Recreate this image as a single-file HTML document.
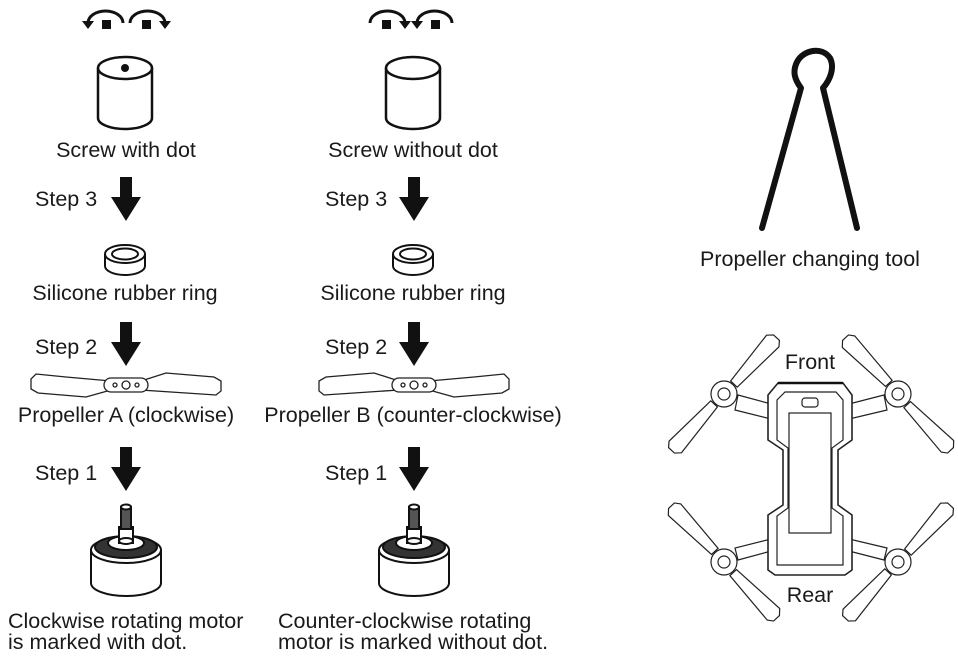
<!DOCTYPE html>
<html><head><meta charset="utf-8"><style>
html,body{margin:0;padding:0;background:#fff}
svg{display:block}
text{font-family:"Liberation Sans",Arial,sans-serif;font-size:21.5px;fill:#1a1a1a}
</style></head><body>
<svg width="958" height="660" viewBox="0 0 958 660" xmlns="http://www.w3.org/2000/svg">
<defs>
<g id="arrow"><rect x="-6" y="0" width="12" height="22" fill="#111"/><polygon points="-15,20 15,20 0,44" fill="#111"/></g>
<g id="ring" fill="#fff" stroke="#111" stroke-width="2"><path d="M-20,-6 L-20,6 A20,9 0 0 0 20,6 L20,-6"/><ellipse cx="0" cy="-6" rx="20" ry="9"/><ellipse cx="0" cy="-6" rx="13" ry="5.5"/></g>
<g id="prop" fill="#fff" stroke="#222" stroke-width="1.3">
<path d="M-15,-4 L-60,-8 L-90,-11 L-95,-6 L-95,4 L-88,8 L-40,12 L-15,5 Z"/>
<path d="M15,-4 L40,-12 L88,-8 L95,-4 L95,6 L90,10 L60,8 L15,5 Z"/>
<rect x="-22" y="-7" width="44" height="14" rx="7"/>
<circle cx="0" cy="0" r="4"/><circle cx="-11" cy="0" r="2"/><circle cx="11" cy="0" r="2"/>
</g>
<g id="motor" stroke="#111" stroke-width="2" fill="#fff">
<path d="M-35,45 L-35,78 A35,13 0 0 0 35,78 L35,45"/>
<ellipse cx="0" cy="45" rx="35" ry="13"/>
<ellipse cx="0" cy="42" rx="31" ry="11" fill="#333"/>
<ellipse cx="0" cy="38" rx="18" ry="7"/>
<rect x="-7" y="22" width="14" height="16"/>
<ellipse cx="0" cy="36" rx="7" ry="3"/>
<rect x="-5" y="2" width="10" height="22" fill="#555"/>
<ellipse cx="0" cy="2" rx="5" ry="2.5" fill="#fff"/>
</g>
<g id="cyl" fill="#fff" stroke="#111" stroke-width="2.5"><path d="M-27,0 L-27,50 A27,11 0 0 0 27,50 L27,0"/><ellipse cx="0" cy="0" rx="27" ry="11"/></g>
<g id="lockL"><path d="M-20,14 A17.5,12 0 0 1 15,14" fill="none" stroke="#111" stroke-width="3"/><polygon points="-26,12 -14,12 -20,20" fill="#111"/><rect x="-6" y="11" width="9" height="9" fill="#111"/></g>
<path id="blade" d="M14,-4 L72,-9 L77,-4 L77,4 L72,8 L14,5 Z" fill="#fff" stroke="#222" stroke-width="1.2"/>
</defs>

<g transform="translate(108,9)"><use href="#lockL"/></g>
<g transform="translate(145,9) scale(-1,1)"><use href="#lockL"/></g>
<g transform="translate(385,9) scale(-1,1)"><use href="#lockL"/></g>
<g transform="translate(437,9)"><use href="#lockL"/></g>

<g transform="translate(125,68)"><use href="#cyl"/><circle cx="0" cy="0" r="4" fill="#111"/></g>
<g transform="translate(413,68)"><use href="#cyl"/></g>

<text x="126" y="157" text-anchor="middle">Screw with dot</text>
<text x="413" y="157" text-anchor="middle">Screw without dot</text>

<text x="35" y="206">Step 3</text><use href="#arrow" transform="translate(126,177)"/>
<text x="325" y="206">Step 3</text><use href="#arrow" transform="translate(414,177)"/>

<use href="#ring" transform="translate(125,260)"/>
<use href="#ring" transform="translate(413,260)"/>
<text x="125" y="300" text-anchor="middle">Silicone rubber ring</text>
<text x="413" y="300" text-anchor="middle">Silicone rubber ring</text>

<text x="35" y="354">Step 2</text><use href="#arrow" transform="translate(126,322)"/>
<text x="325" y="354">Step 2</text><use href="#arrow" transform="translate(414,322)"/>

<use href="#prop" transform="translate(126,385)"/>
<use href="#prop" transform="translate(414,385) scale(-1,1)"/>
<text x="126" y="422" text-anchor="middle">Propeller A (clockwise)</text>
<text x="413" y="422" text-anchor="middle">Propeller B (counter-clockwise)</text>

<text x="35" y="480">Step 1</text><use href="#arrow" transform="translate(126,447)"/>
<text x="325" y="480">Step 1</text><use href="#arrow" transform="translate(414,447)"/>

<use href="#motor" transform="translate(126,505)"/>
<use href="#motor" transform="translate(414,505)"/>

<text x="8" y="628">Clockwise rotating motor</text>
<text x="8" y="649">is marked with dot.</text>
<text x="278" y="628">Counter-clockwise rotating</text>
<text x="278" y="649">motor is marked without dot.</text>

<path d="M762,228 L801,88 C795,80 792,72 797,62 C803,50 822,46 830,58 C835,68 830,80 823,88 L857,228" fill="none" stroke="#111" stroke-width="6" stroke-linecap="round" stroke-linejoin="round"/>
<text x="810" y="266" text-anchor="middle">Propeller changing tool</text>

<g stroke="#222" stroke-width="1.2" fill="#fff">
<path d="M738,395 L775,405 L775,420 L735,410 Z"/>
<path d="M884,395 L845,405 L845,420 L887,410 Z"/>
<path d="M738,560 L775,550 L775,538 L735,548 Z"/>
<path d="M884,560 L845,550 L845,538 L887,548 Z"/>
</g>
<use href="#blade" transform="translate(724,394) rotate(-47)"/>
<use href="#blade" transform="translate(724,394) rotate(133)"/>
<use href="#blade" transform="translate(898,394) rotate(-133)"/>
<use href="#blade" transform="translate(898,394) rotate(47)"/>
<use href="#blade" transform="translate(724,562) rotate(47)"/>
<use href="#blade" transform="translate(724,562) rotate(-133)"/>
<use href="#blade" transform="translate(898,562) rotate(-47)"/>
<use href="#blade" transform="translate(898,562) rotate(133)"/>
<g stroke="#222" stroke-width="1.2" fill="#fff">
<circle cx="724" cy="394" r="13"/><circle cx="724" cy="394" r="6"/>
<circle cx="898" cy="394" r="13"/><circle cx="898" cy="394" r="6"/>
<circle cx="724" cy="562" r="13"/><circle cx="724" cy="562" r="6"/>
<circle cx="898" cy="562" r="13"/><circle cx="898" cy="562" r="6"/>
<path d="M778,383 L843,383 L852,395 L852,440 L838,450 L838,505 L852,515 L852,570 L845,575 L775,575 L768,570 L768,515 L783,505 L783,450 L768,440 L768,395 Z" stroke-width="1.6"/>
<path d="M785,392 L836,392 L843,400 L843,440 L832,448 L832,508 L843,516 L843,565 L777,565 L777,516 L788,508 L788,448 L777,440 L777,400 Z"/>
<rect x="789" y="413" width="42" height="120"/>
<rect x="802" y="398" width="16" height="9" rx="3"/>
</g>
<line x1="778" y1="383" x2="843" y2="383" stroke="#111" stroke-width="2.5"/>
<text x="810" y="369" text-anchor="middle">Front</text>
<text x="810" y="602" text-anchor="middle">Rear</text>
</svg>
</body></html>
